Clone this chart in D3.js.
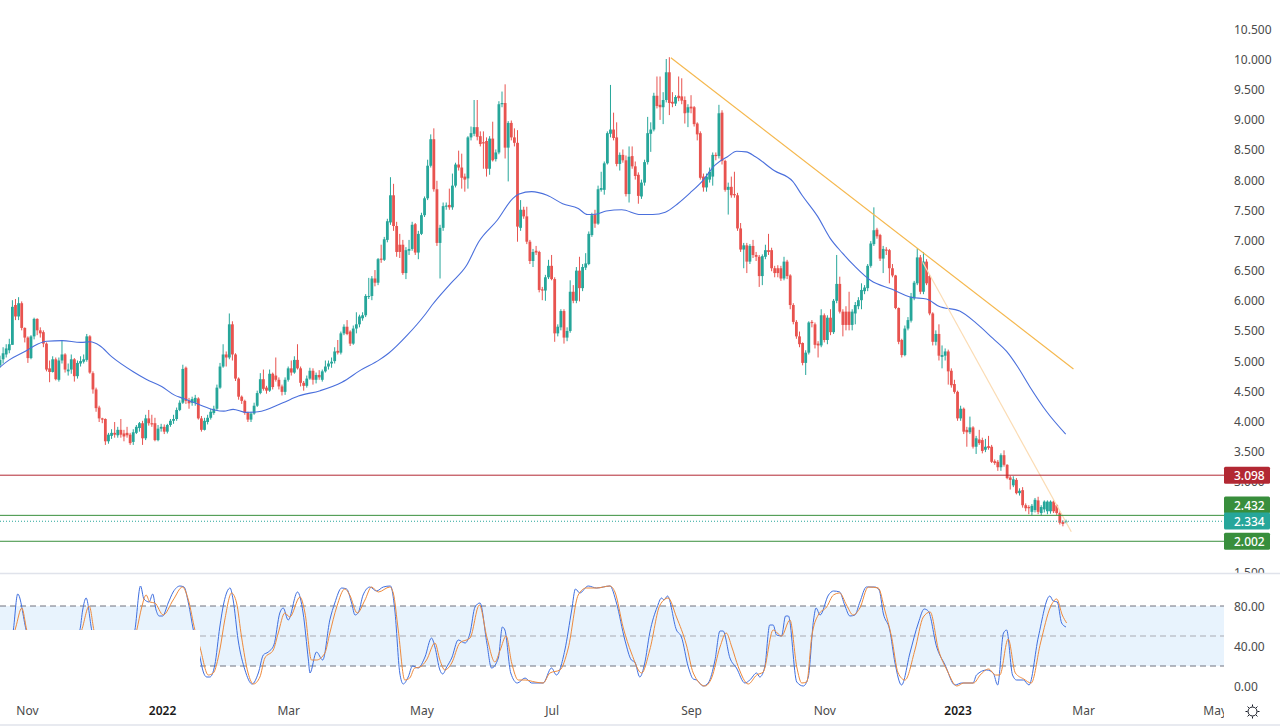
<!DOCTYPE html>
<html><head><meta charset="utf-8">
<script src="https://cdn.jsdelivr.net/npm/d3@7/dist/d3.min.js"></script>
<style>html,body{margin:0;padding:0;background:#fff;overflow:hidden}svg{display:block}text{font-family:"Noto Sans",sans-serif}</style>
</head><body><svg id="c" width="1280" height="728"></svg>
<script>
const opens=[4.92,5.02,5.1,5.17,5.26,5.92,5.73,5.95,5.54,5.38,
5.04,5.4,5.69,5.5,5.47,5.28,4.87,4.81,5.02,4.68,
5.0,5.1,4.82,4.85,5.02,4.74,4.95,4.98,5.01,5.4,
4.79,4.52,4.22,4.04,4.03,3.66,3.75,3.8,3.76,3.85,
3.79,3.8,3.77,3.65,3.8,3.88,3.96,3.71,4.04,
3.96,3.96,3.68,3.87,3.9,3.82,3.93,4.0,4.03,4.18,
4.3,4.88,4.33,4.3,4.3,4.37,4.04,3.85,3.98,4.05,
4.13,4.2,4.55,4.9,5.1,5.05,5.6,5.1,4.7,4.4,
4.33,4.13,4.02,4.12,4.25,4.46,4.69,4.55,4.5,4.78,
4.75,4.68,4.57,4.48,4.68,4.87,4.8,5.01,4.87,4.63,
4.58,4.7,4.83,4.68,4.76,4.68,4.82,4.9,4.95,4.99,5.16,5.13,
5.45,5.56,5.48,5.28,5.53,5.6,5.7,5.75,6.06,6.07,
6.36,6.29,6.69,6.67,7.0,7.29,7.74,7.23,6.92,6.92,
6.45,6.82,6.85,7.26,6.79,7.1,7.41,7.69,8.23,8.67,
7.84,6.95,7.2,7.55,7.58,7.54,7.9,8.25,8.2,8.05,
8.02,8.7,8.76,8.87,8.72,8.62,8.64,8.18,8.68,8.34,
8.45,9.25,9.27,8.53,8.94,8.7,8.61,7.2,7.5,7.39,
6.97,6.65,6.82,6.8,6.18,6.16,6.38,6.57,6.35,5.45,
5.55,5.82,5.38,5.49,6.14,5.99,6.49,6.2,6.54,6.6,
7.08,7.42,7.27,7.83,7.83,8.27,8.76,8.83,8.7,8.26,
8.41,8.32,7.76,8.39,8.22,8.08,7.72,7.95,8.29,8.76,
8.83,9.39,9.24,9.2,9.32,9.78,9.29,9.26,9.39,
9.38,9.32,9.11,9.21,9.2,8.93,8.77,8.05,7.87,8.0,
8.05,8.41,8.39,9.11,8.31,7.83,7.88,7.76,7.74,7.19,
6.84,6.91,6.64,6.9,6.75,6.72,6.4,6.72,6.83,6.83,
6.53,6.53,6.53,6.36,6.64,6.41,5.92,5.64,5.4,5.29,
4.96,5.13,5.64,5.6,5.28,5.25,5.75,5.34,5.71,5.47,
5.99,6.27,5.81,5.81,5.81,5.59,5.78,5.9,6.0,6.15,
6.2,6.57,6.93,7.17,7.08,6.69,6.84,6.83,6.53,6.41,
5.87,5.34,5.09,5.53,5.66,6.03,6.28,6.71,6.14,6.64,
6.4,5.78,5.31,5.44,5.06,5.08,5.15,4.83,4.61,4.48,
4.04,4.2,3.85,3.81,3.89,3.57,3.69,3.68,3.52,3.58,
3.57,3.33,3.32,3.23,3.43,3.27,3.06,2.93,3.02,2.8,
2.85,2.6,2.57,2.49,2.52,2.68,2.47,2.53,2.5,2.5,
2.66,2.6,2.47,2.32,2.31];
const closes=[5.01,5.12,5.2,5.27,5.89,5.73,5.95,5.54,5.38,5.04,
5.4,5.69,5.5,5.45,5.28,4.85,4.81,5.02,4.69,5.0,
5.1,4.85,4.85,5.02,4.74,4.96,4.99,5.02,5.4,4.8,
4.52,4.21,4.04,4.02,3.66,3.77,3.8,3.77,3.85,3.77,
3.74,3.76,3.63,3.81,3.9,3.96,3.71,4.04,3.96,
3.94,3.68,3.87,3.9,3.82,3.93,4.0,4.03,4.18,4.3,
4.86,4.33,4.29,4.36,4.38,4.04,3.85,4.0,4.05,4.15,
4.2,4.55,4.9,5.1,5.05,5.6,5.1,4.7,4.4,4.33,
4.13,4.02,4.12,4.25,4.46,4.69,4.53,4.5,4.78,4.56,
4.68,4.57,4.48,4.68,4.87,4.8,5.01,4.87,4.63,4.58,
4.7,4.83,4.68,4.76,4.72,4.82,4.9,4.95,4.98,5.15,5.13,5.45,
5.56,5.44,5.28,5.53,5.6,5.73,5.75,6.07,6.07,6.36,
6.29,6.68,6.67,7.01,7.31,7.74,7.23,6.8,6.8,6.45,
6.83,6.85,7.25,6.79,7.1,7.41,7.69,8.23,8.67,7.84,
6.95,7.2,7.56,7.57,7.54,7.9,8.25,8.2,8.03,8.0,
8.7,8.77,8.87,8.71,8.59,8.6,8.18,8.68,8.32,8.45,
9.25,9.27,8.53,8.94,8.7,8.61,7.22,7.5,7.39,6.97,
6.65,6.8,6.79,6.17,6.16,6.38,6.57,6.35,5.45,5.56,
5.82,5.38,5.49,6.14,5.99,6.49,6.2,6.55,6.61,7.1,
7.41,7.27,7.84,7.86,8.27,8.77,8.83,8.69,8.26,8.41,
8.32,7.76,8.38,8.22,8.06,7.73,7.95,8.29,8.77,8.83,
9.39,9.22,9.2,9.32,9.78,9.27,9.26,9.37,9.35,
9.31,9.1,9.2,9.18,8.92,8.75,8.03,7.87,8.05,8.13,
8.41,8.39,9.1,8.31,7.83,7.88,7.74,7.74,7.19,6.84,
6.91,6.64,6.9,6.75,6.72,6.4,6.73,6.83,6.8,6.53,
6.45,6.45,6.36,6.64,6.4,5.92,5.64,5.4,5.27,4.96,
5.13,5.63,5.62,5.26,5.25,5.75,5.34,5.71,5.47,5.99,
6.27,5.81,5.59,5.59,5.59,5.81,5.92,6.0,6.17,6.21,
6.57,6.94,7.16,7.06,6.69,6.85,6.82,6.53,6.41,5.87,
5.31,5.09,5.53,5.67,6.06,6.29,6.71,6.14,6.64,6.28,
5.78,5.31,5.44,5.08,5.09,5.15,4.82,4.59,4.48,4.04,
4.2,3.82,3.81,3.89,3.57,3.71,3.63,3.5,3.57,3.55,
3.32,3.3,3.23,3.43,3.27,3.05,3.02,3.03,2.8,2.84,
2.6,2.55,2.55,2.59,2.69,2.49,2.57,2.66,2.66,2.66,
2.5,2.47,2.31,2.29,2.334];
const highs=[5.08,5.22,5.27,5.36,6.0,6.02,6.05,5.98,5.55,5.4,
5.42,5.71,5.7,5.55,5.5,5.3,5.0,5.07,5.05,5.05,
5.34,5.12,4.95,5.1,5.04,5.0,5.07,5.1,5.44,5.42,
4.82,4.55,4.25,4.05,4.04,3.8,3.86,3.98,3.9,4.03,
3.85,3.9,3.8,3.86,3.93,3.98,4.0,4.1,4.18,
4.1,4.05,3.93,3.95,3.94,3.95,4.03,4.1,4.22,4.34,
4.93,4.9,4.38,4.4,4.43,4.39,4.08,4.05,4.1,4.2,
4.25,4.6,4.96,5.27,5.15,5.78,5.65,5.12,4.72,4.42,
4.35,4.15,4.15,4.3,4.5,4.79,4.85,4.58,4.85,4.8,
5.05,4.72,4.6,4.72,4.9,5.0,5.07,5.27,4.9,4.66,
4.75,4.88,4.87,4.8,4.84,4.85,5.0,5.0,5.05,5.22,5.34,5.48,
5.6,5.67,5.5,5.58,5.8,5.76,5.8,6.1,6.37,6.4,
6.5,6.7,6.92,7.05,7.35,8.04,7.93,7.3,7.1,7.0,
6.88,7.0,7.3,7.28,7.15,7.45,7.72,8.33,8.75,8.85,
7.98,7.25,7.62,7.62,7.85,8.1,8.28,8.48,8.43,8.1,
8.72,8.88,9.32,9.32,8.8,8.8,8.7,8.72,8.96,8.5,
9.3,9.46,9.58,8.97,8.98,8.85,8.82,7.66,7.55,7.55,
7.0,6.85,6.9,6.82,6.22,6.42,6.67,6.75,6.38,5.6,
5.85,5.85,5.55,6.33,6.25,6.55,6.72,6.6,6.78,7.14,
7.45,7.5,7.9,8.13,8.3,8.8,9.57,9.11,8.95,8.45,
8.5,8.4,8.55,8.55,8.3,8.12,8.0,8.33,9.04,8.95,
9.44,9.71,9.71,9.45,10.0,10.03,9.45,9.4,9.71,
9.68,9.38,9.25,9.4,9.22,8.95,8.8,8.1,8.1,8.2,
8.45,8.45,9.24,9.15,8.33,7.95,8.05,8.13,7.78,7.28,
6.95,6.95,6.93,7.0,6.8,6.75,6.76,6.92,7.1,6.87,
6.57,6.58,6.57,6.72,6.67,6.43,5.95,5.67,5.48,5.3,
5.17,5.65,5.67,5.63,5.32,5.85,5.78,5.75,5.85,6.02,
6.75,6.39,5.85,5.9,6.14,5.85,5.97,6.05,6.28,6.25,
6.6,6.98,7.54,7.2,7.1,6.9,6.88,6.85,6.6,6.42,
5.88,5.36,5.58,5.72,6.12,6.32,6.86,6.75,6.8,6.68,
6.42,5.8,5.5,5.6,5.25,5.2,5.18,4.87,4.68,4.5,
4.25,4.22,3.9,4.07,3.91,3.75,3.85,3.72,3.7,3.75,
3.6,3.36,3.35,3.46,3.51,3.28,3.09,3.08,3.05,2.88,
2.9,2.63,2.6,2.62,2.72,2.74,2.6,2.68,2.68,2.68,
2.68,2.62,2.5,2.35,2.36];
const lows=[4.88,4.95,5.05,5.12,5.26,5.67,5.67,5.5,5.3,4.96,
5.02,5.35,5.42,5.38,5.22,4.82,4.64,4.8,4.67,4.65,
4.95,4.8,4.75,4.78,4.65,4.7,4.9,4.95,4.98,4.78,
4.45,4.15,3.98,3.96,3.6,3.62,3.7,3.72,3.72,3.72,
3.66,3.72,3.6,3.6,3.78,3.82,3.6,3.68,3.92,
3.9,3.66,3.66,3.82,3.78,3.79,3.9,3.95,4.0,4.16,
4.28,4.28,4.2,4.25,4.25,4.02,3.82,3.84,3.94,4.02,
4.1,4.18,4.53,4.88,4.9,5.02,5.0,4.66,4.35,4.28,
4.1,3.98,3.98,4.1,4.23,4.44,4.5,4.45,4.48,4.52,
4.65,4.52,4.42,4.43,4.65,4.75,4.78,4.85,4.57,4.5,
4.55,4.68,4.6,4.62,4.68,4.65,4.8,4.85,4.88,4.95,5.1,5.1,
5.42,5.42,5.24,5.26,5.45,5.55,5.66,5.72,6.02,6.0,
6.23,6.25,6.62,6.65,6.96,7.25,7.15,6.72,6.7,6.42,
6.35,6.75,6.82,6.75,6.68,7.08,7.38,7.66,8.2,7.8,
6.9,6.36,7.15,7.5,7.5,7.5,7.87,8.15,7.85,7.8,
7.85,8.65,8.72,8.65,8.55,8.18,8.05,8.08,8.3,8.3,
8.42,9.2,8.35,7.97,8.65,8.55,6.97,7.15,7.35,6.93,
6.6,6.55,6.75,6.13,6.0,5.99,6.35,6.33,5.31,5.4,
5.5,5.28,5.32,5.46,5.95,5.95,5.98,6.15,6.5,6.58,
7.05,7.2,7.25,7.8,7.75,8.25,8.7,8.65,8.22,8.15,
8.28,7.72,7.62,8.18,8.0,7.6,7.68,7.9,8.25,8.46,
8.8,9.18,8.99,8.92,9.28,9.07,9.2,9.22,9.3,
9.25,8.93,8.87,9.1,8.88,8.65,8.0,7.8,7.8,7.95,
7.9,8.32,8.35,8.25,7.8,7.42,7.7,7.7,7.15,6.8,
6.53,6.45,6.6,6.7,6.65,6.22,6.25,6.68,6.75,6.48,
6.38,6.38,6.32,6.33,6.35,5.85,5.6,5.36,5.22,4.92,
4.76,5.1,5.55,5.2,5.05,5.22,5.3,5.27,5.42,5.44,
5.95,5.78,5.4,5.5,5.5,5.5,5.6,5.85,5.85,6.1,
6.15,6.54,6.9,7.02,6.65,6.45,6.75,6.28,6.38,5.85,
5.27,5.05,5.07,5.5,5.63,6.0,6.25,6.1,6.1,6.25,
5.75,5.25,5.25,5.0,4.87,5.0,4.6,4.55,4.45,4.0,
4.0,3.78,3.57,3.78,3.54,3.45,3.6,3.46,3.48,3.52,
3.3,3.27,3.17,3.17,3.24,3.03,2.86,2.9,2.78,2.76,
2.56,2.5,2.45,2.43,2.48,2.45,2.43,2.48,2.45,2.46,
2.47,2.44,2.28,2.25,2.3];

const maBars=[0,3,8,12,15,20,26,29,32,36,43,47,52,56,59,64,69,72,75,79,83,91,96,103,110,116,122,125,131,137,139,145,150,154,160,165,167,171,176,181,186,189,192,195,200,206,210,214,218,222,226,230,234,237,240,243,249,255,258,263,267,271,275,280,287,293,298,302,308.7,314,319.3,323.8,327.3,331.2,336.7,342.8];
const maValues=[4.89,5.01,5.15,5.27,5.32,5.33,5.3,5.31,5.25,5.06,4.81,4.69,4.57,4.43,4.37,4.27,4.18,4.16,4.19,4.14,4.15,4.3,4.41,4.5,4.64,4.84,5.01,5.12,5.42,5.78,5.92,6.28,6.57,6.97,7.33,7.69,7.76,7.8,7.74,7.6,7.52,7.42,7.43,7.48,7.5,7.42,7.42,7.46,7.6,7.78,7.98,8.24,8.38,8.47,8.46,8.38,8.15,7.97,7.74,7.39,7.03,6.78,6.56,6.33,6.18,6.05,6.02,5.9,5.82,5.62,5.37,5.15,4.9,4.57,4.15,3.78];

const kBars=[0,3,4.3,5.7,8.4,11,21,25.7,26.6,27.7,29.5,33,40,43.4,45.2,46.3,48,49.1,50.2,51.2,52.3,54.1,55.7,57.9,59.2,60.6,62.2,64.3,65.4,66.5,67.5,69.1,70.7,72,74,75,76.6,78.8,81.1,83.1,84.7,86.3,88.1,90,91.1,92.7,95.7,97.5,99.2,99.7,101.8,103.8,106.1,107.7,109.9,111.5,113.1,114.2,115.2,116.8,119,121.1,123.3,125.6,127,128.6,129.7,131.3,132.7,134.5,136.7,138.8,139.9,141.5,142.4,143.7,145.3,147.4,149.6,151.2,152.8,154.4,156.6,158.1,160.3,161.6,162.4,164.3,166.4,168.9,171,174.7,177.4,179,181.7,183.9,185.1,186.5,189.2,191.9,196.2,198.3,201,203.1,204.2,205.8,207.4,209,211.4,212.8,213.6,214.7,217.6,219.2,221.4,223,224.1,226.2,227.8,230,231.6,232.6,234.8,236.9,239.6,241.2,243.4,244.4,246,247.6,248.7,249.8,251.4,252.7,253.6,256.3,258.4,260,261.7,262.5,263.8,266.5,268.1,270.1,271.7,273.4,275,276.6,278.7,281.4,282.8,284.1,286.2,287.9,290,292.7,295.4,297.3,298.6,301.3,304,307.2,309.3,313,314.1,317.4,319.5,320.9,322.8,323.8,325.7,327,329.2,331,334,337.7,338.8,340.1,341.5,342.9];
const kValues=[20,30,56,92,56,25,25,56,76,88,56,25,25,56,100,87,84,92,76,70,70,83,94,100,99,83,56,29,14,9,9,21,59,83,98,86,46,16,2,13,31,34,41,73,78,66,94,73,26,13,34,26,66,83,98,97,83,71,73,91,99,95,99,100,76,13,2,9,20,18,29,48,39,16,12,19,28,46,43,53,79,83,43,18,28,59,56,13,3,8,3,3,18,11,36,76,97,93,100,98,100,83,46,26,24,9,23,53,79,88,86,90,56,49,19,7,6,0,3,26,55,55,28,18,3,6,13,9,19,61,61,51,50,70,70,4,0,9,66,78,71,91,95,94,81,70,71,84,99,99,96,73,56,23,1,33,63,77,75,39,21,1,3,3,11,16,13,1,53,56,11,6,6,1,49,90,85,84,63,59];
const dBars=[0,2,5.1,7,8.6,12,22,26.3,28.7,30.2,34,41,44,45.6,47,48.2,49.8,52.5,55.7,58.7,60.6,62.7,64.3,67,68.6,70.7,72.3,74.5,76.1,77.7,79.8,81.5,83.6,85.2,87.9,89.5,91.6,93.2,96.5,98.1,100.2,101.8,104.5,106.1,108.3,110.9,112.5,114.9,117.4,119.5,121.7,125.4,126.5,128.1,130.2,131.8,133.4,135.1,137.2,139.9,141.5,143.1,145.3,147.9,151.2,154.2,156.6,159.2,160.9,162.8,164.6,166.7,168.9,172.1,174.7,176.9,180.1,182.8,186,188.6,191.9,196.2,197.8,200.5,203.1,206.4,209,212.3,214.9,217.6,220.8,223,226.8,228.9,231.6,233.6,235.4,237.5,240.7,243.4,245.5,248.7,251.4,254.1,256.3,257.9,259.5,261.1,263.2,265.9,268.1,270.1,272.3,274.4,276.6,279.3,282.5,284.6,286.8,288.9,291.1,294.3,297,299.2,301.9,304.6,307.8,310,313.2,315.3,318,320.2,321.6,324.3,326.6,329.3,331.7,334.7,337.9,339.9,341.7,343.1];
const dValues=[20,25,59,78,56,25,25,56,80,56,25,25,56,79,91,84,83,71,86,99,86,56,39,11,13,36,66,93,83,49,13,2,9,28,36,53,73,69,89,73,26,26,33,53,79,97,91,73,86,99,94,99,93,56,6,8,18,19,26,43,26,16,23,43,48,81,49,24,36,50,23,6,6,4,3,13,16,38,91,98,98,100,94,58,33,13,36,81,88,69,41,13,0,8,39,53,39,19,2,11,14,56,50,66,19,3,4,49,71,79,91,93,81,71,78,99,98,76,49,13,6,36,69,74,36,16,0,3,3,11,17,11,11,47,13,7,3,43,79,87,71,63];

const trendBars=[215.8,345.3], trendValues=[10.02,4.86];
const fastBars=[296.8,344.6], fastValues=[6.63,2.16];
const levels=[{v:3.098,c:"#b22833"},{v:2.432,c:"#388e3c"},{v:2.002,c:"#388e3c"}];
const lastPrice=2.334;
const priceTicks=[10.5,10,9.5,9,8.5,8,7.5,7,6.5,6,5.5,5,4.5,4,3.5,3,2.5,2,1.5];
const stochTicks=[80,40,0];
const dateBars=[8.7,52.3,93,136,178,223,266,309,349.5,392];
const dateLabels=["Nov","2022","Mar","May","Jul","Sep","Nov","2023","Mar","May"];

const W=1224;
const svg=d3.select("#c");
const defs=svg.append("defs");
defs.append("clipPath").attr("id","pane").append("rect").attr("x",0).attr("y",0).attr("width",W).attr("height",573);
defs.append("clipPath").attr("id","axisP").append("rect").attr("x",W).attr("y",0).attr("width",56).attr("height",573);
defs.append("clipPath").attr("id","axisT").append("rect").attr("x",0).attr("y",695).attr("width",W).attr("height",30);

const xBar=d3.scaleLinear().domain([0,344]).range([0,1066]);
const xLine=d3.scaleLinear().domain([0,342.9]).range([0,1066]);
const y=d3.scaleLinear().domain([1.5,10.5]).range([571.55,28.85]);
const yS=d3.scaleLinear().domain([0,100]).range([686,586]);

const UP="#26a69a",DOWN="#e8534f";
const bars=opens.map((o,i)=>({i,o,c:closes[i],h:highs[i],l:lows[i]}));
const main=svg.append("g").attr("clip-path","url(#pane)");
const cg=main.selectAll("g.b").data(bars).join("g").attr("class","b");
cg.append("line").attr("x1",d=>xBar(d.i)).attr("x2",d=>xBar(d.i)).attr("y1",d=>y(d.h)).attr("y2",d=>y(d.l))
  .attr("stroke",d=>d.c>=d.o?UP:DOWN).attr("stroke-width",1);
cg.append("rect").attr("x",d=>xBar(d.i)-1.4).attr("width",2.8)
  .attr("y",d=>y(Math.max(d.o,d.c))).attr("height",d=>Math.max(1,Math.abs(y(d.o)-y(d.c))))
  .attr("fill",d=>d.c>=d.o?UP:DOWN);

const ln=(xs,ys,sx,sy,curve)=>d3.line().x((d,i)=>sx(xs[i])).y((d,i)=>sy(ys[i])).curve(curve||d3.curveLinear)(ys);
main.append("path").attr("d",ln(maBars,maValues,xLine,y,d3.curveMonotoneX)).attr("fill","none").attr("stroke","#4a6fdc").attr("stroke-width",1.1);
main.append("path").attr("d",ln(trendBars,trendValues,xLine,y)).attr("fill","none").attr("stroke","#f5b84f").attr("stroke-width",1.2);
main.append("path").attr("d",ln(fastBars,fastValues,xLine,y)).attr("fill","none").attr("stroke","#fbdcb4").attr("stroke-width",1.2);

levels.forEach(l=>{
  main.append("line").attr("x1",0).attr("x2",W).attr("y1",y(l.v)).attr("y2",y(l.v)).attr("stroke",l.c).attr("stroke-width",1);
});
main.append("line").attr("x1",0).attr("x2",W).attr("y1",y(lastPrice)).attr("y2",y(lastPrice)).attr("stroke",UP).attr("stroke-width",1).attr("stroke-dasharray","1 2");

// price axis
const axP=svg.append("g").attr("clip-path","url(#axisP)").append("g").attr("transform",`translate(${W},0.7)`)
  .call(d3.axisRight(y).tickValues(priceTicks).tickFormat(d3.format(".3f")).tickSize(0).tickPadding(10));
axP.select(".domain").remove();
axP.selectAll("text").attr("font-size",12).attr("fill","#4a4a4a").style("font-family",'"Noto Sans",sans-serif');

// price labels
const tags=[{v:"3.098",cy:y(3.098),c:"#b22833"},{v:"2.432",cy:505,c:"#388e3c"},{v:"2.334",cy:521,c:"#26a69a"},{v:"2.002",cy:y(2.002),c:"#388e3c"}];
const tg=svg.append("g");
tags.forEach(t=>{
  tg.append("rect").attr("x",W).attr("y",t.cy-8.5).attr("width",46).attr("height",17).attr("rx",1.5).attr("fill",t.c);
  tg.append("text").attr("x",1234).attr("y",t.cy+0.5).attr("dy","0.36em").attr("font-size",12).attr("fill","#fff").attr("font-weight",500).text(t.v);
});

// separators
svg.append("line").attr("x1",0).attr("x2",1280).attr("y1",573.5).attr("y2",573.5).attr("stroke","#e0e3eb").attr("stroke-width",1.5);
svg.append("line").attr("x1",0).attr("x2",1280).attr("y1",725).attr("y2",725).attr("stroke","#e0e3eb").attr("stroke-width",1.5);

// stochastic pane
svg.append("rect").attr("x",0).attr("width",W).attr("y",yS(80)).attr("height",yS(20)-yS(80)).attr("fill","#e8f3fd");
[[80,"#70737e"],[50,"#a9abb3"],[20,"#70737e"]].forEach(([v,c])=>{
  svg.append("line").attr("x1",0).attr("x2",W).attr("y1",yS(v)).attr("y2",yS(v)).attr("stroke",c).attr("stroke-dasharray","6 4").attr("stroke-width",1);
});
svg.append("path").attr("d",ln(kBars,kValues,xLine,yS,d3.curveMonotoneX)).attr("fill","none").attr("stroke","#3f6fe0").attr("stroke-width",1);
svg.append("path").attr("d",ln(dBars,dValues,xLine,yS,d3.curveMonotoneX)).attr("fill","none").attr("stroke","#ee8a3c").attr("stroke-width",1);
// white patch that masks the start of the oscillator
svg.append("rect").attr("x",0).attr("y",630).attr("width",200).attr("height",70).attr("fill","#fff");

const axS=svg.append("g").attr("transform",`translate(${W},0.7)`)
  .call(d3.axisRight(yS).tickValues(stochTicks).tickFormat(d3.format(".2f")).tickSize(0).tickPadding(10));
axS.select(".domain").remove();
axS.selectAll("text").attr("font-size",12).attr("fill","#4a4a4a").style("font-family",'"Noto Sans",sans-serif');

// time axis
const xAxisScale=d3.scaleLinear().domain([0,344]).range([0,1066]);
const axT=svg.append("g").attr("clip-path","url(#axisT)").append("g").attr("transform","translate(0,703.5)")
  .call(d3.axisBottom(xAxisScale).tickValues(dateBars).tickFormat((d,i)=>dateLabels[i]).tickSize(0).tickPadding(3));
axT.select(".domain").remove();
axT.selectAll("text").attr("font-size",12).style("font-family",'"Noto Sans",sans-serif')
  .attr("font-weight",(d,i)=>/^\d/.test(dateLabels[i])?600:400)
  .attr("fill",(d,i)=>/^\d/.test(dateLabels[i])?"#1a1a1a":"#4a4a4a");

// settings icon
const ic=svg.append("g").attr("transform","translate(1252.5,711.5)").attr("fill","none").attr("stroke","#131722").attr("stroke-width",1);
ic.append("circle").attr("r",4.5);
d3.range(8).forEach(i=>{const a=i*Math.PI/4;
  ic.append("line").attr("x1",Math.cos(a)*5).attr("y1",Math.sin(a)*5).attr("x2",Math.cos(a)*7).attr("y2",Math.sin(a)*7);});
</script></body></html>
